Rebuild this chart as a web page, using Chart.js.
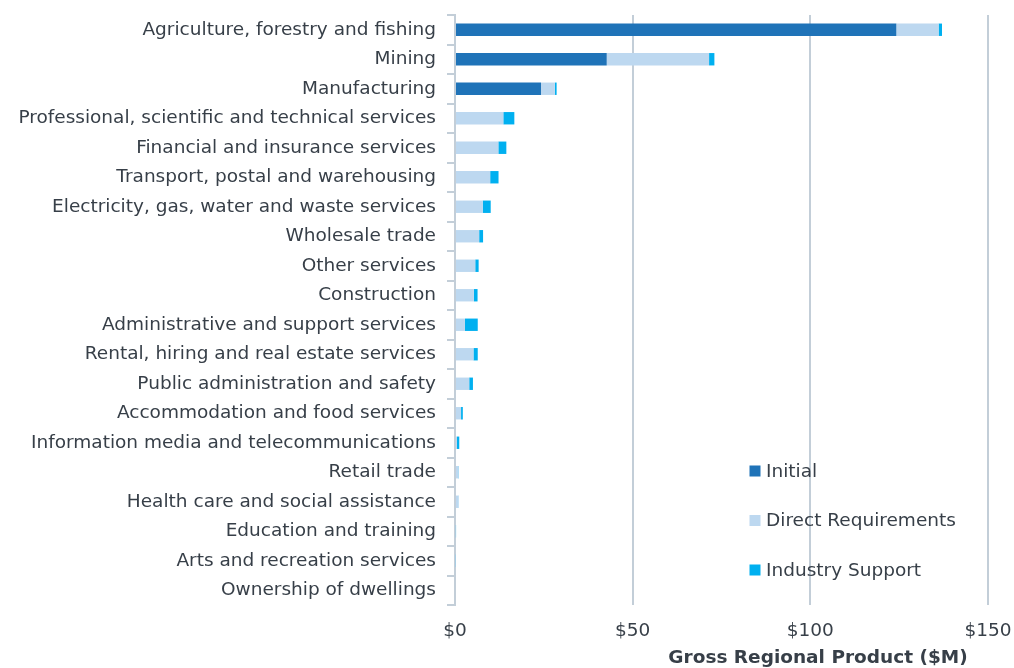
<!DOCTYPE html>
<html>
<head>
<meta charset="utf-8">
<title>Gross Regional Product by industry</title>
<script src="https://cdn.jsdelivr.net/npm/chart.js@4/dist/chart.umd.min.js"></script>
<style>
  html, body { margin: 0; padding: 0; background: #ffffff; }
  #wrap { position: relative; width: 1014px; height: 668px; }
</style>
</head>
<body>
<div id="wrap"><canvas id="chart"></canvas></div>
<script>
// Industries, top to bottom
const industries = [
  "Agriculture, forestry and fishing",
  "Mining",
  "Manufacturing",
  "Professional, scientific and technical services",
  "Financial and insurance services",
  "Transport, postal and warehousing",
  "Electricity, gas, water and waste services",
  "Wholesale trade",
  "Other services",
  "Construction",
  "Administrative and support services",
  "Rental, hiring and real estate services",
  "Public administration and safety",
  "Accommodation and food services",
  "Information media and telecommunications",
  "Retail trade",
  "Health care and social assistance",
  "Education and training",
  "Arts and recreation services",
  "Ownership of dwellings"
];

// Gross Regional Product contribution ($M)
const initial = [124.2, 42.7, 24.2, 0, 0, 0, 0, 0, 0, 0, 0, 0, 0, 0, 0, 0, 0, 0, 0, 0];
const directRequirements = [11.9, 28.8, 3.9, 13.6, 12.2, 9.9, 7.8, 6.8, 5.7, 5.3, 2.8, 5.2, 4.0, 1.7, 0.55, 1.0, 1.0, 0.25, 0.2, 0];
const industrySupport = [0.95, 1.5, 0.5, 3.1, 2.25, 2.35, 2.25, 1.1, 0.95, 1.05, 3.6, 1.2, 1.05, 0.5, 0.65, 0.1, 0.05, 0.05, 0.05, 0];

const xTicks = [0, 50, 100, 150];
const xTitle = "Gross Regional Product ($M)";

const TEXT = "#373f48";
const GRID = "#c3ced8";
const FONT = "'DejaVu Sans', sans-serif";

// Legend drawn inside the plot area, lower right
const innerLegend = {
  id: "innerLegend",
  afterDatasetsDraw(chart) {
    const { ctx, chartArea } = chart;
    const x0 = chartArea.right - 238.5;
    const y0 = chartArea.bottom - 134;
    const step = 49.5;
    ctx.save();
    ctx.font = "18.5px " + FONT;
    ctx.textBaseline = "middle";
    ctx.textAlign = "left";
    chart.data.datasets.forEach((ds, i) => {
      const y = y0 + i * step;
      ctx.fillStyle = ds.backgroundColor;
      ctx.fillRect(x0, y - 5.5, 11, 11);
      ctx.fillStyle = TEXT;
      ctx.fillText(ds.label, x0 + 16.5, y + 1);
    });
    ctx.restore();
  }
};

// Horizontal axis title, set toward the right of the axis
const axisTitle = {
  id: "axisTitle",
  afterDraw(chart) {
    const { ctx, chartArea } = chart;
    ctx.save();
    ctx.font = "bold 18.5px " + FONT;
    ctx.fillStyle = TEXT;
    ctx.textAlign = "center";
    ctx.textBaseline = "middle";
    ctx.fillText(xTitle, chartArea.right - 170, chartArea.bottom + 53);
    ctx.restore();
  }
};

new Chart(document.getElementById("chart"), {
  type: "bar",
  data: {
    labels: industries,
    datasets: [
      { label: "Initial", data: initial, backgroundColor: "#1f73b8" },
      { label: "Direct Requirements", data: directRequirements, backgroundColor: "#bdd8f0" },
      { label: "Industry Support", data: industrySupport, backgroundColor: "#00b0f0" }
    ]
  },
  options: {
    indexAxis: "y",
    responsive: true,
    maintainAspectRatio: false,
    animation: false,
    layout: { padding: { top: 15, right: 26, left: 0, bottom: 0 } },
    datasets: { bar: { barPercentage: 1, categoryPercentage: 0.42 } },
    plugins: {
      legend: { display: false },
      tooltip: { enabled: false }
    },
    scales: {
      x: {
        stacked: true,
        min: 0,
        max: 150,
        afterBuildTicks(scale) { scale.ticks = xTicks.map(v => ({ value: v })); },
        afterFit(scale) {
          scale.height = 63;
          scale.paddingLeft = 0;
          scale.paddingRight = 0;
        },
        border: { display: false },
        grid: { color: GRID, lineWidth: 2, drawTicks: false },
        ticks: {
          color: TEXT,
          padding: 15,
          font: { family: FONT, size: 18.5 },
          callback: v => "$" + v
        }
      },
      y: {
        stacked: true,
        afterFit(scale) {
          scale.width = 455;
          scale.paddingTop = 0;
          scale.paddingBottom = 0;
        },
        border: { display: true, color: GRID, width: 2 },
        grid: { drawOnChartArea: false, color: GRID, lineWidth: 2, tickLength: 8, offset: true },
        ticks: {
          color: TEXT,
          padding: 11,
          autoSkip: false,
          font: { family: FONT, size: 18.5 }
        }
      }
    }
  },
  plugins: [innerLegend, axisTitle]
});
</script>
</body>
</html>
